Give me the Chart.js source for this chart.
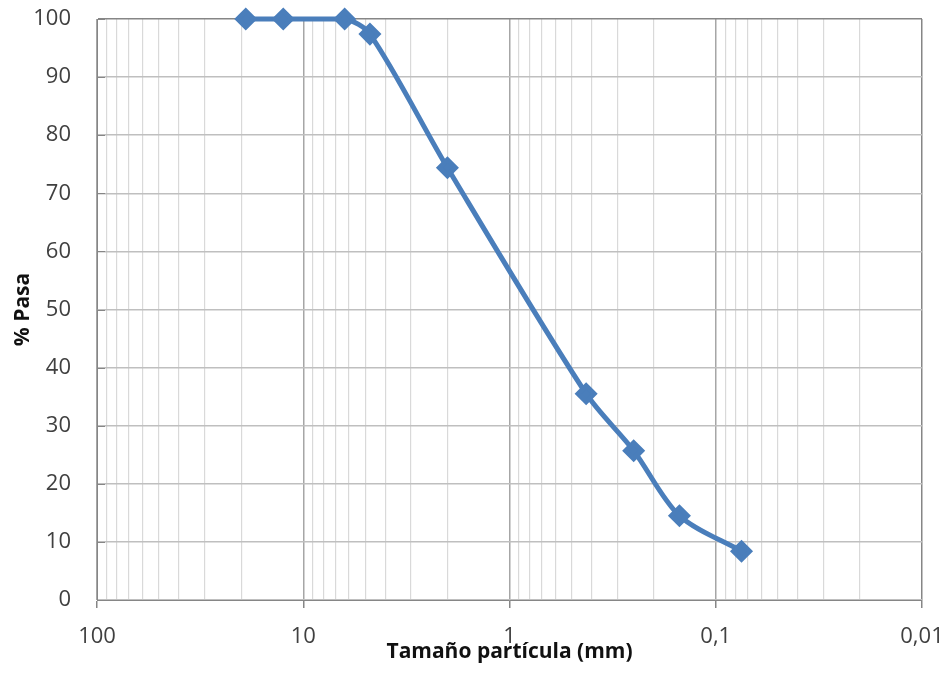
<!DOCTYPE html>
<html>
<head>
<meta charset="utf-8">
<script src="https://cdn.jsdelivr.net/npm/chart.js@4.4.1/dist/chart.umd.min.js"></script>
<style>
  html, body { margin: 0; padding: 0; background: #fff; }
  #wrap { width: 947px; height: 680px; }
</style>
</head>
<body>
<div id="wrap"><canvas id="gradChart"></canvas></div>
<script>
// Curva granulométrica
const sizesMm = [19, 12.5, 6.3, 4.75, 2, 0.425, 0.25, 0.15, 0.075];
const percentPassing = [100, 100, 100, 97.4, 74.4, 35.5, 25.7, 14.5, 8.4];

const decadeValues = [100, 10, 1, 0.1, 0.01];
const decadeLabels = ['100', '10', '1', '0,1', '0,01'];
const yTicks = [0, 10, 20, 30, 40, 50, 60, 70, 80, 90, 100];

const lineColor = '#4a7ebb';

function isDecade(v) {
    return decadeValues.some(d => Math.abs(v - d) / d < 1e-6);
}

function decadeLabel(v) {
    const i = decadeValues.findIndex(d => Math.abs(v - d) / d < 1e-6);
    return i >= 0 ? decadeLabels[i] : '';
}

// ticks 1..9 por década para la rejilla logarítmica
function logGridTicks() {
    const out = [];
    for (let k = -2; k <= 1; k++) {
        for (let m = 1; m <= 9; m++) {
            out.push({ value: Number((m * Math.pow(10, k)).toPrecision(6)) });
        }
    }
    out.push({ value: 100 });
    return out;
}

// marcas cortas del eje Y hacia dentro del área
const innerTicks = {
    id: 'innerTicks',
    afterDatasetsDraw(chart) {
        const y = chart.scales.y, ctx = chart.ctx;
        const x0 = chart.chartArea.left;
        ctx.save();
        ctx.strokeStyle = '#868686';
        ctx.lineWidth = 1;
        yTicks.forEach(t => {
            const py = Math.round(y.getPixelForValue(t)) + 0.5;
            ctx.beginPath();
            ctx.moveTo(x0, py);
            ctx.lineTo(x0 + 8, py);
            ctx.stroke();
        });
        ctx.restore();
    }
};

const ctx = document.getElementById('gradChart');
new Chart(ctx, {
    type: 'scatter',
    data: {
        datasets: [{
            data: sizesMm.map((s, i) => ({ x: s, y: percentPassing[i] })),
            showLine: true,
            borderColor: lineColor,
            backgroundColor: lineColor,
            borderWidth: 5,
            tension: 0.3,
            pointStyle: 'rectRot',
            pointRadius: 8,
            pointHoverRadius: 8,
            clip: false
        }]
    },
    options: {
        responsive: true,
        maintainAspectRatio: false,
        animation: false,
        layout: { padding: { top: 19, right: 25, left: 0, bottom: 0 } },
        plugins: {
            legend: { display: false },
            tooltip: { enabled: false }
        },
        scales: {
            x: {
                type: 'logarithmic',
                reverse: true,
                min: 0.01,
                max: 100,
                afterBuildTicks: scale => { scale.ticks = logGridTicks(); },
                afterFit: scale => {
                    scale.height = 80;
                    scale.paddingLeft = 0;
                    scale.paddingRight = 0;
                },
                border: { color: '#868686', width: 1 },
                grid: {
                    color: c => {
                        const v = c.tick ? c.tick.value : 0;
                        if (Math.abs(v - 0.01) < 1e-9) return '#868686';
                        return isDecade(v) ? '#a6a6a6' : '#d9d9d9';
                    },
                    lineWidth: c => (c.tick && isDecade(c.tick.value)) ? 1.5 : 1.2,
                    tickLength: 8,
                    tickColor: c => (c.tick && isDecade(c.tick.value)) ? '#868686' : 'rgba(0,0,0,0)'
                },
                ticks: {
                    autoSkip: false,
                    maxRotation: 0,
                    padding: 16,
                    color: '#404040',
                    font: { family: 'Open Sans', size: 22 },
                    callback: v => decadeLabel(v)
                },
                title: {
                    display: true,
                    text: 'Tamaño partícula (mm)',
                    color: '#111',
                    font: { family: 'Open Sans', size: 21, weight: 'bold' },
                    padding: { top: 0, bottom: 15 }
                }
            },
            y: {
                min: 0,
                max: 100,
                afterBuildTicks: scale => { scale.ticks = yTicks.map(v => ({ value: v })); },
                afterFit: scale => {
                    scale.width = 97;
                    scale.paddingTop = 0;
                    scale.paddingBottom = 0;
                },
                border: { color: '#868686', width: 1 },
                grid: {
                    color: c => (c.tick && c.tick.value === 100) ? '#868686' : '#bfbfbf',
                    lineWidth: 1.5,
                    drawTicks: false
                },
                ticks: {
                    padding: 26,
                    color: '#404040',
                    font: { family: 'Open Sans', size: 22 }
                },
                title: {
                    display: true,
                    text: '% Pasa',
                    color: '#111',
                    font: { family: 'Open Sans', size: 21, weight: 'bold' },
                    padding: { top: 10, bottom: 0 }
                }
            }
        }
    },
    plugins: [innerTicks]
});
</script>
</body>
</html>
